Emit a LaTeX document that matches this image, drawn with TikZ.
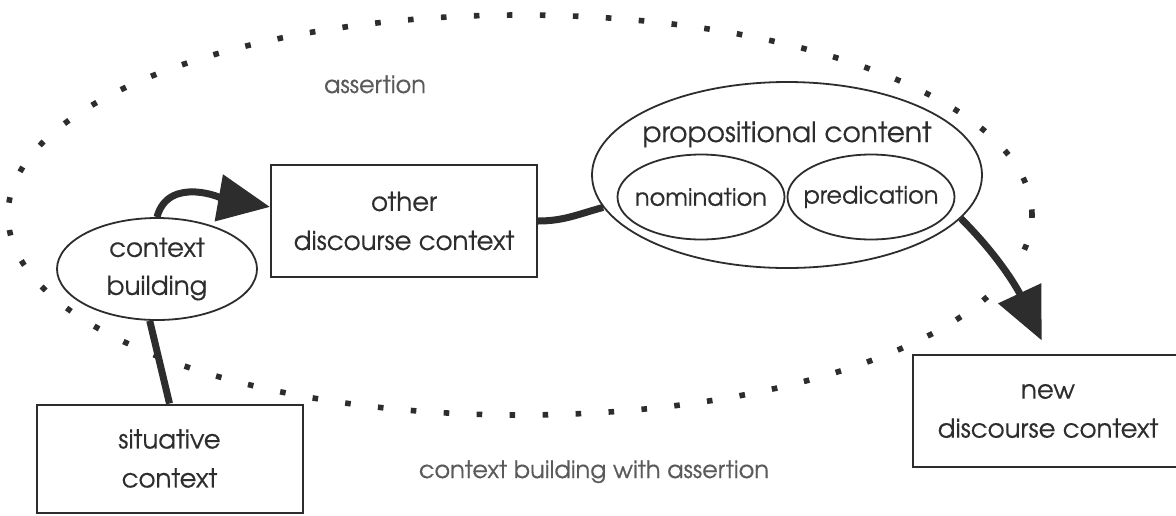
\documentclass[tikz,border=0pt]{standalone}
\usepackage{fontspec}
\setmainfont{TeX Gyre Adventor}[FakeBold=0.4]
\usetikzlibrary{positioning,shapes.geometric,arrows.meta}
\definecolor{ink}{RGB}{45,45,45}
\definecolor{soft}{RGB}{90,90,90}

\begin{document}
\begin{tikzpicture}[x=0.5pt, y=-0.5pt,
    box/.style={draw=ink, line width=1pt, fill=white, text=ink, align=center,
                font=\fontsize{13}{19.5}\selectfont, inner sep=0pt},
    bubble/.style={ellipse, draw=ink, line width=0.9pt, fill=white, text=ink,
                   align=center, inner sep=0pt, font=\fontsize{13}{19}\selectfont},
    small bubble/.style={bubble, inner xsep=-5pt, font=\fontsize{12}{14}\selectfont},
    link/.style={draw=ink, line width=3.5pt},
    big arrow/.style={link, -{Triangle[length=26pt, width=23pt]}},
    caption/.style={text=soft, font=\fontsize{12}{14}\selectfont},
    dots/.style={draw=ink, line width=2.8pt, dash pattern=on 2.8pt off 13.7pt}
  ]
  \useasboundingbox (0,0) rectangle (1176,515);

  % the assertion frame
  \draw[dots] (520,215) ellipse [x radius=256pt, y radius=100pt];

  \node[box, minimum width=133pt, minimum height=54pt] (sc) at (169.5,458.5) {situative\\context};
  \node[bubble, minimum width=100pt, minimum height=51pt] (cb) at (157,269) {context\\building};
  \node[box, minimum width=133pt, minimum height=56pt] (odc) at (404,221) {other\\discourse context};

  \node[bubble, minimum width=195pt, minimum height=93pt] (pc) at (787,175) {};
  \node[text=ink, font=\fontsize{14}{19}\selectfont, anchor=base] (pctext) at (787,142) {propositional content};
  \node[small bubble, minimum width=83.5pt, minimum height=42.5pt] (nom) at (701,197) {nomination};
  \node[small bubble, minimum width=83.5pt, minimum height=42.5pt] (pred) at (871,197) {predication};

  \node[box, minimum width=135pt, minimum height=56pt] (ndc) at (1048,411) {new\\discourse context};

  \node[caption, anchor=base] (asr) at (375,93) {assertion};
  \node[caption, anchor=base] (cbwa) at (594,478) {context building with assertion};

  \draw[big arrow] (cb.north) to[out=75, in=170] (odc.174);
  \draw[link] (cb.262) -- (sc.north);
  \draw[link] (odc.east) to[out=0, in=195] (pc.190);
  \draw[big arrow, shorten >=7.5pt] (pc.-14) to[out=-45, in=115] (ndc.north);
\end{tikzpicture}
\end{document}
